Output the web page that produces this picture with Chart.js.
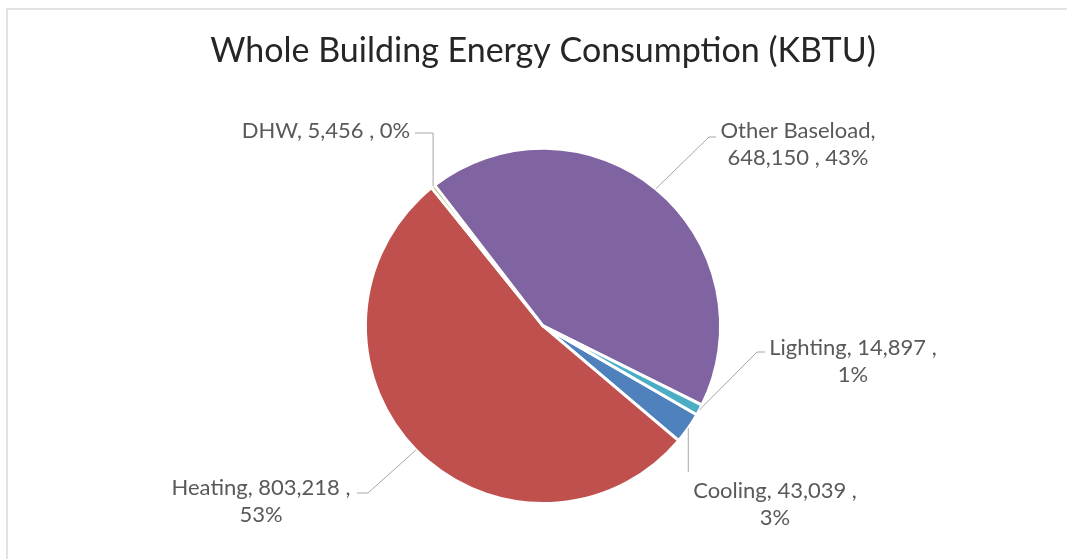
<!DOCTYPE html>
<html>
<head>
<meta charset="utf-8">
<script src="https://cdn.jsdelivr.net/npm/chart.js@4.4.1/dist/chart.umd.min.js"></script>
<style>
  html, body { margin: 0; padding: 0; background: #fff; }
  #frame {
    position: absolute; left: 6px; top: 8px; width: 1080px; height: 580px;
    border-left: 2px solid #e3e3e3; border-top: 2px solid #e3e3e3;
  }
  #chart { position: absolute; left: 0; top: 0; }
</style>
</head>
<body>
<div id="frame"></div>
<canvas id="chart" width="1067" height="559"></canvas>
<script>
const categories = ["Cooling", "Heating", "DHW", "Other Baseload", "Lighting"];
const values = [43039, 803218, 5456, 648150, 14897];
const colors = ["#4F81BD", "#C0504D", "#9BBB59", "#8064A2", "#4BACC6"];

// where each data label sits, and the elbow of its leader line
const labelLayout = [
  { x: 775, y: 491, wrap: "val", lead: [["arc", 472]] },
  { x: 261, y: 488, wrap: "val", lead: [[357, 493], [368, 493]] },
  { x: 326, y: 131, wrap: null, lead: [[415, 133], ["arc", 133]] },
  { x: 798, y: 131, wrap: "cat", lead: [[716, 137], [709, 137]] },
  { x: 853, y: 348, wrap: "val", lead: [[765, 352], [757, 352]] },
];

const total = values.reduce((a, b) => a + b, 0);
const fmt = (n) => n.toLocaleString("en-US");

const labelPlugin = {
  id: "leaderLabels",
  afterDraw(chart) {
    const { ctx } = chart;
    const meta = chart.getDatasetMeta(0);
    ctx.save();
    ctx.font = "22px Lato";
    ctx.fillStyle = "#595959";
    ctx.textAlign = "center";
    ctx.textBaseline = "middle";
    meta.data.forEach((arc, i) => {
      const { x, y, startAngle, endAngle, outerRadius } = arc.getProps(
        ["x", "y", "startAngle", "endAngle", "outerRadius"], true);
      const mid = (startAngle + endAngle) / 2;
      const px = x + Math.cos(mid) * outerRadius;
      const py = y + Math.sin(mid) * outerRadius;
      const lay = labelLayout[i];

      ctx.strokeStyle = "#a6a6a6";
      ctx.lineWidth = 1;
      ctx.beginPath();
      lay.lead.forEach(([lx, ly], k) => {
        const ax = lx === "arc" ? px : lx;
        if (k === 0) ctx.moveTo(ax, ly); else ctx.lineTo(ax, ly);
      });
      ctx.lineTo(px, py);
      ctx.stroke();

      const pct = Math.round((values[i] / total) * 100) + "%";
      let lines;
      if (lay.wrap === "cat") {
        lines = [categories[i] + ",", fmt(values[i]) + " , " + pct];
      } else if (lay.wrap === "val") {
        lines = [categories[i] + ", " + fmt(values[i]) + " ,", pct];
      } else {
        lines = [categories[i] + ", " + fmt(values[i]) + " , " + pct];
      }
      lines.forEach((t, k) => ctx.fillText(t, lay.x, lay.y + k * 27));
    });
    ctx.restore();
  },
};

new Chart(document.getElementById("chart"), {
  type: "pie",
  data: {
    labels: categories,
    datasets: [{
      data: values,
      backgroundColor: colors,
      borderColor: "#ffffff",
      borderWidth: 3,
    }],
  },
  options: {
    responsive: false,
    animation: false,
    rotation: 120,
    layout: { padding: { top: 0, bottom: 54, left: 19, right: 0 } },
    plugins: {
      legend: { display: false },
      tooltip: { enabled: false },
      title: {
        display: true,
        text: "Whole Building Energy Consumption (KBTU)",
        color: "#262626",
        font: { family: "Lato", size: 34, weight: "normal" },
        padding: { top: 31, bottom: 75 },
      },
    },
  },
  plugins: [labelPlugin],
});
</script>
</body>
</html>
